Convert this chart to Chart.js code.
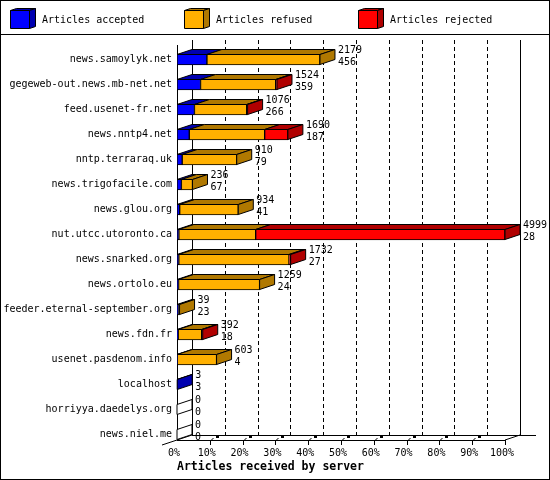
<!DOCTYPE html>
<html><head><meta charset="utf-8">
<script src="https://cdn.jsdelivr.net/npm/chart.js@4"></script>
<style>html,body{margin:0;padding:0;background:#fff}canvas{display:block}</style>
</head><body>
<canvas id="c" width="550" height="480"></canvas>
<script>
const categories = ['news.samoylyk.net','gegeweb-out.news.mb-net.net','feed.usenet-fr.net','news.nntp4.net','nntp.terraraq.uk','news.trigofacile.com','news.glou.org','nut.utcc.utoronto.ca','news.snarked.org','news.ortolo.eu','feeder.eternal-september.org','news.fdn.fr','usenet.pasdenom.info','localhost','horriyya.daedelys.org','news.niel.me'];
const accepted = [456,359,266,187,79,67,41,28,27,24,23,18,4,3,0,0];
const refused  = [1723,1145,796,1149,831,169,893,1171,1680,1235,16,358,599,0,0,0];
const rejected = [0,20,14,354,0,0,0,3800,25,0,0,16,0,0,0,0];
const seriesLabels = ['Articles accepted','Articles refused','Articles rejected'];
const xTickPercents = [0,10,20,30,40,50,60,70,80,90,100];
const axisTitle = 'Articles received by server';

const totals = categories.map((_, i) => accepted[i] + refused[i] + rejected[i]);
const maxTotal = Math.max(...totals);

const FRONT = ['#0000ff', '#ffb000', '#ff0000'];
const SHADE = ['#0000b0', '#b07800', '#b00000'];
const DX = 15, DY = 5;
const MONO = '"DejaVu Sans Mono", "Liberation Mono", monospace';

function poly(ctx, pts, fill) {
  ctx.beginPath();
  ctx.moveTo(pts[0][0], pts[0][1]);
  for (let k = 1; k < pts.length; k++) ctx.lineTo(pts[k][0], pts[k][1]);
  ctx.closePath();
  if (fill) { ctx.fillStyle = fill; ctx.fill(); }
  ctx.stroke();
}
function line(ctx, x1, y1, x2, y2) {
  ctx.beginPath(); ctx.moveTo(x1, y1); ctx.lineTo(x2, y2); ctx.stroke();
}

const wallPlugin = {
  id: 'wall',
  beforeDatasetsDraw(chart) {
    const ctx = chart.ctx, xs = chart.scales.x, ca = chart.chartArea;
    const meta = chart.getDatasetMeta(0);
    const last = meta.data[meta.data.length - 1];
    const floorF = Math.round(last.y + last.height / 2);
    const floorB = floorF - DY;
    const backTop = ca.top - 7;
    const x0 = Math.round(xs.getPixelForValue(0));
    const x100 = Math.round(xs.getPixelForValue(maxTotal));
    ctx.save();
    ctx.strokeStyle = '#000'; ctx.lineWidth = 1;
    ctx.setLineDash([4, 3]);
    xTickPercents.forEach(p => {
      if (p === 0 || p === 100) return;
      const x = Math.round(xs.getPixelForValue(p / 100 * maxTotal)) + DX + 0.5;
      line(ctx, x, backTop, x, floorB);
    });
    ctx.setLineDash([]);
    line(ctx, x0 + DX + 0.5, backTop, x0 + DX + 0.5, floorB);
    line(ctx, x100 + DX + 0.5, backTop, x100 + DX + 0.5, floorB);
    line(ctx, x0 + DX, floorB + 0.5, x100 + DX + 16, floorB + 0.5);
    line(ctx, x0, floorF + 0.5, x100, floorF + 0.5);
    line(ctx, x0 - 15, floorF + 5, x0 + DX, floorB);
    line(ctx, x100, floorF, x100 + DX, floorB);
    line(ctx, x0 + 0.5, ca.top - 2, x0 + 0.5, floorF);
    xTickPercents.forEach(p => {
      if (p === 0) return;
      const x = Math.round(xs.getPixelForValue(p / 100 * maxTotal)) + 0.5;
      line(ctx, x, floorF, x, floorF + 5);
      if (p !== 100) {
        line(ctx, x, floorF + 1, x + 3, floorF - 2);
        ctx.fillStyle = '#000';
        ctx.fillRect(x + 5.5, floorB + 1, 3, 2);
      }
    });
    ctx.restore();
  }
};

const depthPlugin = {
  id: 'depth',
  afterDatasetsDraw(chart) {
    const ctx = chart.ctx, xs = chart.scales.x;
    const series = [accepted, refused, rejected];
    ctx.save();
    ctx.strokeStyle = '#000'; ctx.lineWidth = 1;
    categories.forEach((cat, i) => {
      let lastD = -1, ref = null;
      series.forEach((arr, d) => {
        const el = chart.getDatasetMeta(d).data[i];
        ref = ref || el;
        if (arr[i] <= 0) return;
        lastD = d;
        const l = Math.min(el.base, el.x), r = Math.max(el.base, el.x);
        const top = Math.round(el.y - el.height / 2) + 0.5;
        poly(ctx, [[l, top], [r, top], [r + DX, top - DY], [l + DX, top - DY]], SHADE[d]);
      });
      const top = Math.round(ref.y - ref.height / 2) + 0.5;
      const bot = Math.round(ref.y + ref.height / 2) - 0.5;
      const endX = xs.getPixelForValue(totals[i]);
      poly(ctx, [[endX, top], [endX + DX, top - DY], [endX + DX, bot - DY], [endX, bot]], lastD >= 0 ? SHADE[lastD] : '#fff');
      ctx.fillStyle = '#000';
      ctx.font = '10px ' + MONO;
      ctx.textAlign = 'left'; ctx.textBaseline = 'middle';
      ctx.fillText(String(totals[i]), endX + DX + 3, ref.y - 9);
      ctx.fillText(String(accepted[i]), endX + DX + 3, ref.y + 2.5);
    });
    ctx.restore();
  }
};

const framePlugin = {
  id: 'frame',
  afterDraw(chart) {
    const ctx = chart.ctx;
    ctx.save();
    ctx.strokeStyle = '#000'; ctx.lineWidth = 1;
    ctx.strokeRect(0.5, 0.5, 549, 479);
    line(ctx, 0, 34.5, 550, 34.5);
    const xsLeg = [10, 184, 358];
    seriesLabels.forEach((lab, d) => {
      const x = xsLeg[d] + 0.5, y = 10.5, w = 19, h = 18;
      poly(ctx, [[x, y], [x + 6, y - 2], [x + w + 6, y - 2], [x + w, y]], SHADE[d]);
      poly(ctx, [[x + w, y], [x + w + 6, y - 2], [x + w + 6, y + h - 2], [x + w, y + h]], SHADE[d]);
      poly(ctx, [[x, y], [x + w, y], [x + w, y + h], [x, y + h]], FRONT[d]);
      ctx.fillStyle = '#000';
      ctx.font = '10px ' + MONO;
      ctx.textAlign = 'left'; ctx.textBaseline = 'middle';
      ctx.fillText(lab, xsLeg[d] + 32, 20);
    });
    ctx.restore();
  }
};

new Chart(document.getElementById('c'), {
  type: 'bar',
  data: {
    labels: categories,
    datasets: [accepted, refused, rejected].map((arr, d) => ({
      label: seriesLabels[d],
      data: arr,
      backgroundColor: FRONT[d],
      borderColor: '#000',
      borderWidth: 1,
      borderSkipped: false,
      barThickness: 11
    }))
  },
  options: {
    indexAxis: 'y',
    responsive: false,
    animation: false,
    devicePixelRatio: 1,
    layout: { padding: { left: 0, right: 45, top: 47, bottom: 0 } },
    plugins: { legend: { display: false }, tooltip: { enabled: false } },
    scales: {
      x: {
        type: 'linear', stacked: true, min: 0, max: maxTotal,
        afterBuildTicks: s => { s.ticks = xTickPercents.map(p => ({ value: p / 100 * maxTotal })); },
        afterFit: s => { s.height = 33; },
        grid: { display: false, drawTicks: false }, border: { display: false },
        ticks: {
          autoSkip: false, maxRotation: 0, padding: 0, labelOffset: -3, color: '#000',
          font: { family: MONO, size: 10 },
          callback: v => Math.round(v / maxTotal * 100) + '%'
        },
        title: {
          display: true, text: axisTitle, align: 'start', color: '#000',
          font: { family: MONO, size: 11.5, weight: 'bold' },
          padding: { top: 0, bottom: 6 }
        }
      },
      y: {
        stacked: true,
        afterFit: s => { s.width = 177; },
        grid: { display: false, drawTicks: false }, border: { display: false },
        ticks: { padding: 5, color: '#000', autoSkip: false, font: { family: MONO, size: 10 } }
      }
    }
  },
  plugins: [wallPlugin, depthPlugin, framePlugin]
});
</script>
</body></html>
